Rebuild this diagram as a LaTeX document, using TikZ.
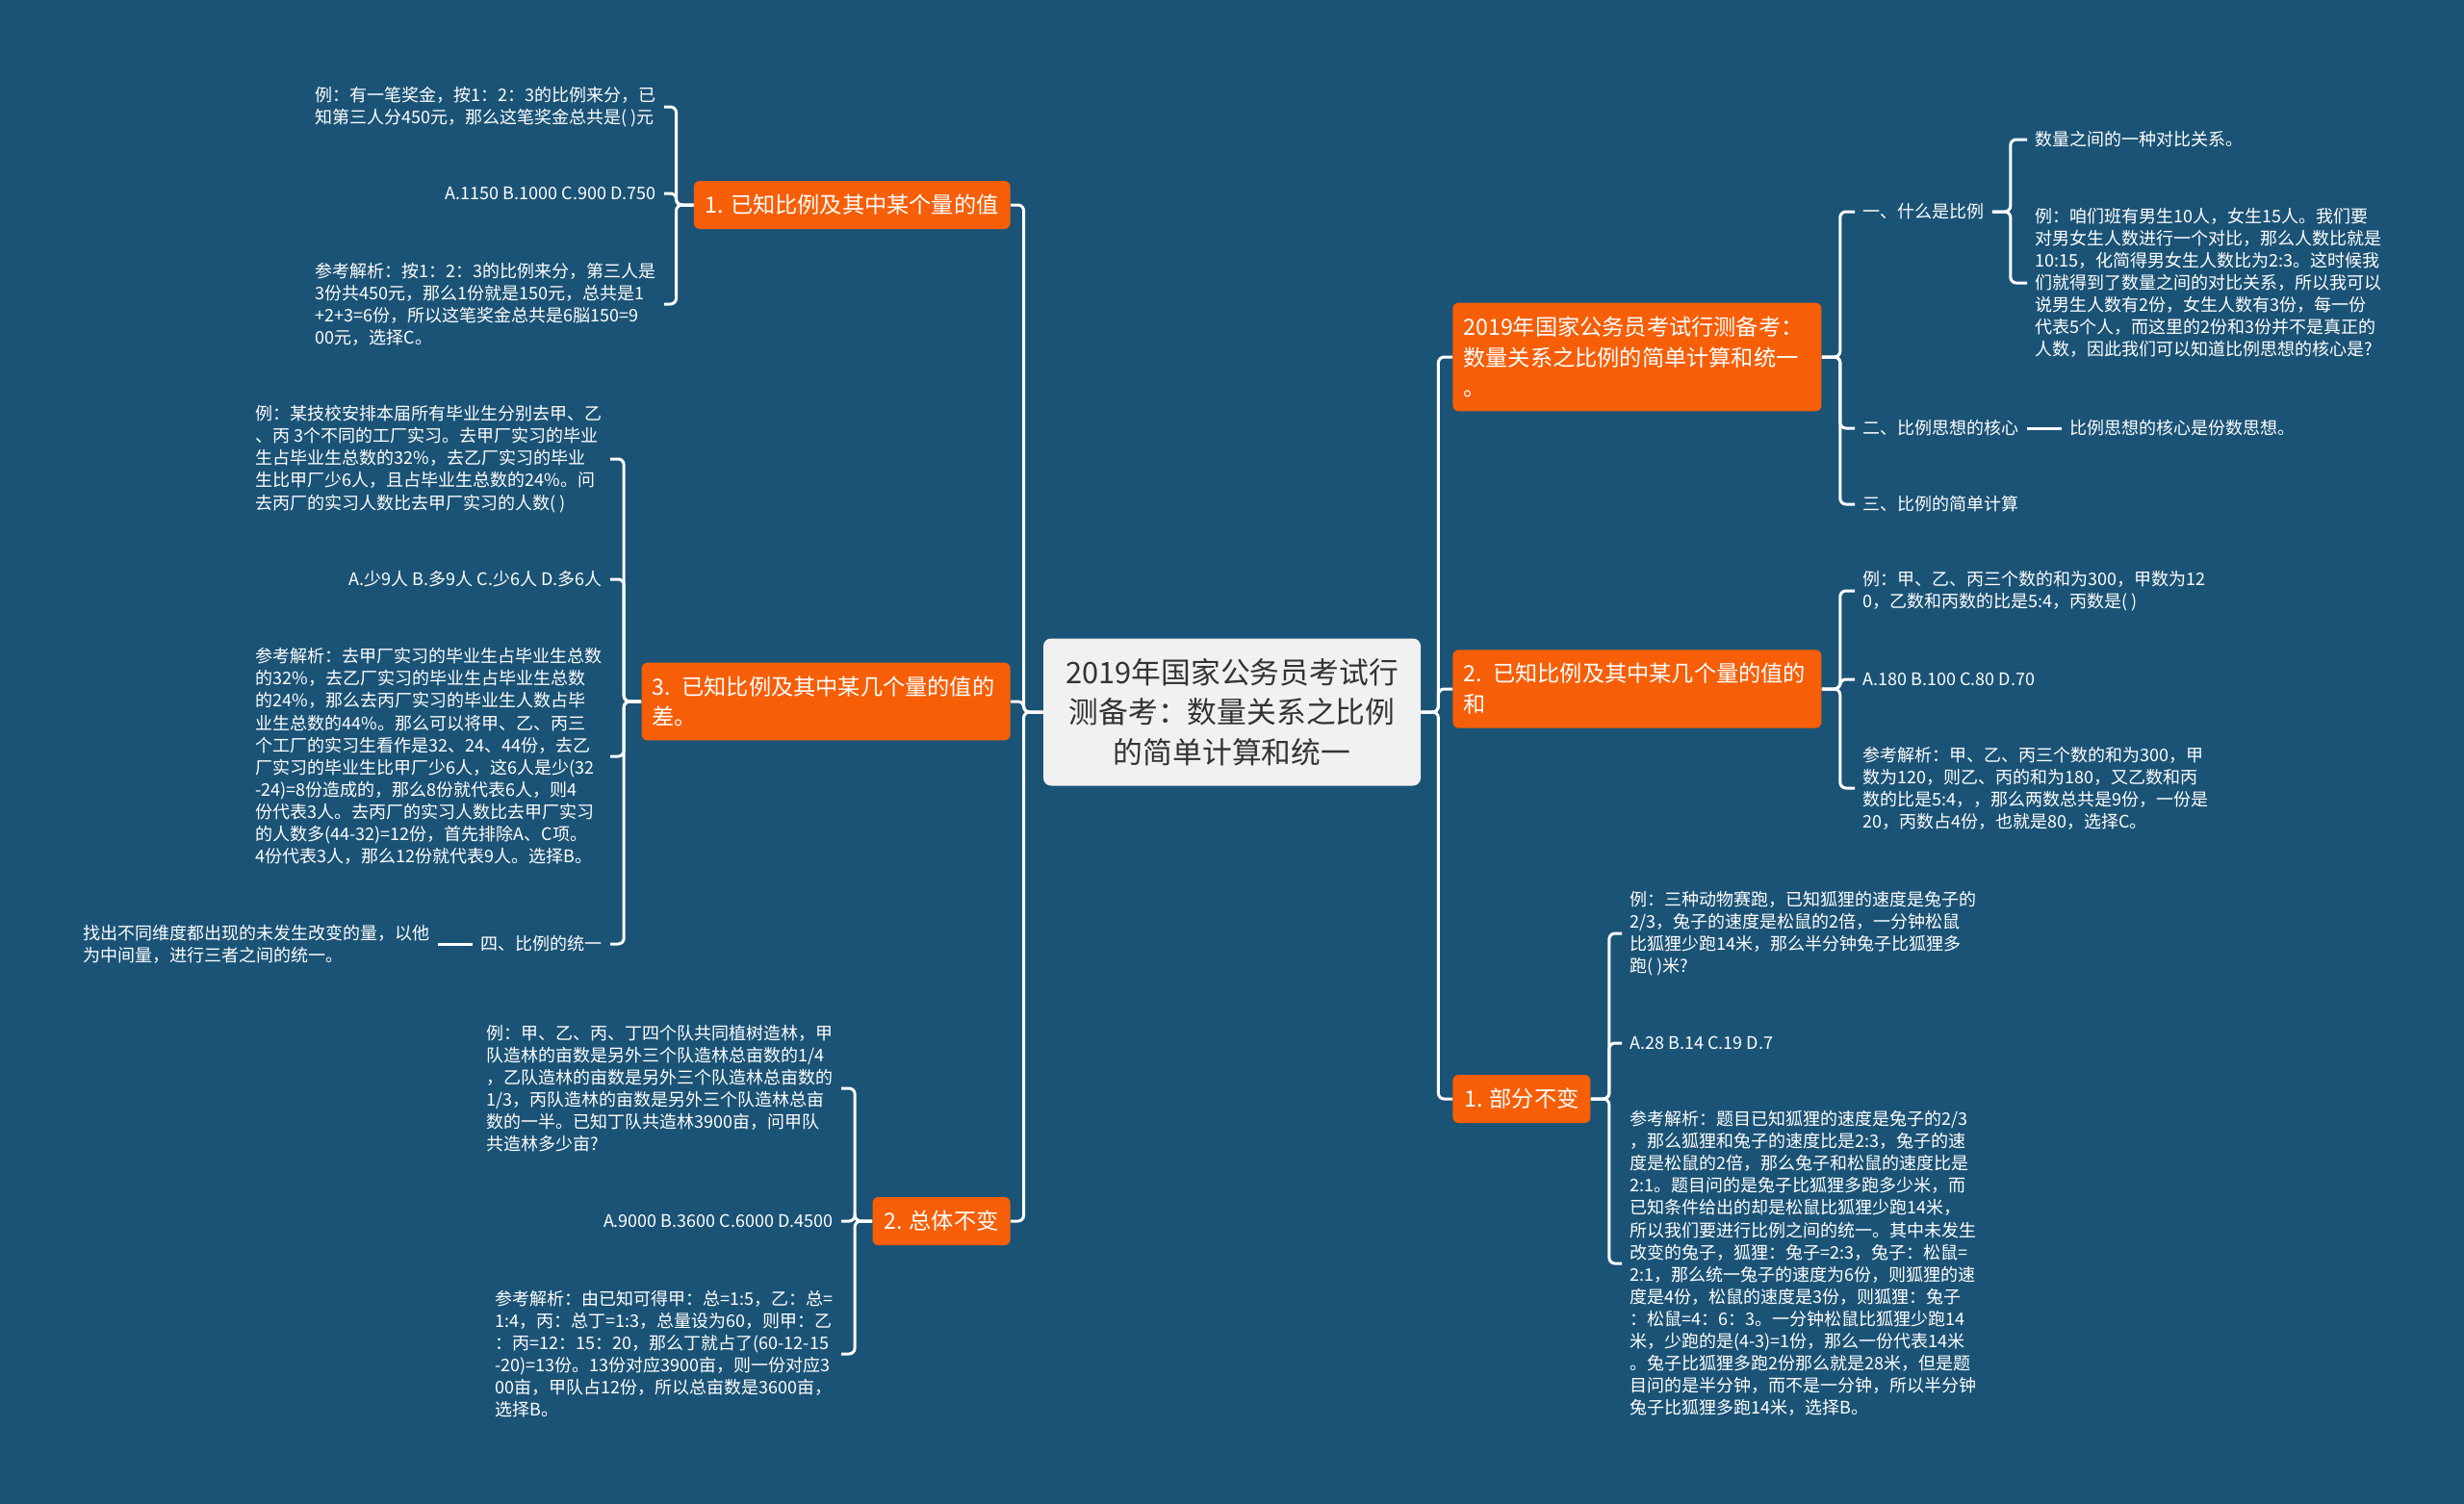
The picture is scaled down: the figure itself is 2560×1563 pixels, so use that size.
\documentclass[tikz,border=0pt]{standalone}
\usepackage{fontspec}
\setmainfont{Noto Sans CJK SC}
\usetikzlibrary{calc}

\definecolor{bgblue}{RGB}{27,83,118}
\definecolor{nodeorange}{RGB}{246,94,8}
\definecolor{rootgray}{RGB}{241,241,241}
\newcommand{\leaffont}{\fontsize{9}{11.54}\selectfont}
\newcommand{\branchfont}{\fontsize{11.6}{15.9}\selectfont}
\newcommand{\rootfont}{\fontsize{15.4}{20.8}\selectfont}

\begin{document}
\begin{tikzpicture}[
        x=0.5pt, y=-0.5pt,
        link/.style={draw=white, line width=1.5pt, rounded corners=3pt},
        root/.style={fill=rootgray, rounded corners=4pt, text=black!80, font=\rootfont, align=center, minimum width=196pt, minimum height=76.5pt},
        branch/.style={fill=nodeorange, rounded corners=3pt, text=white, font=\branchfont, inner xsep=6pt, inner ysep=7pt, minimum height=25pt},
        widebranch/.style={branch, inner xsep=5.5pt, text width=180.5pt, align=left},
        leaf/.style={text=white, font=\leaffont, align=left, inner xsep=4pt, inner ysep=2pt}
    ]
        % 背景
        \useasboundingbox (0,0) rectangle (2560,1563);
        \fill[bgblue] (0,0) rectangle (2560,1563);

        % 中心主题
        \node[root] (root) at (1280,740) {2019年国家公务员考试行\\测备考：数量关系之比例\\的简单计算和统一};

        % 左侧分支
        \node[branch, anchor=east] (L1) at (1050,213) {1. 已知比例及其中某个量的值};
        \node[widebranch, anchor=east] (L3) at (1050,729) {3. 已知比例及其中某几个量的值的\\差。};
        \node[branch, anchor=east] (L2) at (1050,1269) {2. 总体不变};

        % 右侧分支
        \node[widebranch, anchor=west] (R1) at (1509,371) {2019年国家公务员考试行测备考：\\数量关系之比例的简单计算和统一\\。};
        \node[widebranch, anchor=west] (R2) at (1509,716) {2. 已知比例及其中某几个量的值的\\和};
        \node[branch, anchor=west] (R3) at (1509,1142) {1. 部分不变};

        % 主干连线
        \coordinate (ltrunk) at ([xshift=-10pt]root.west);
        \coordinate (rtrunk) at ([xshift=9pt]root.east);
        \draw[link] (root.west) -- (ltrunk) |- (L1.east);
        \draw[link] (root.west) -- (ltrunk) |- (L3.east);
        \draw[link] (root.west) -- (ltrunk) |- (L2.east);
        \draw[link] (root.east) -- (rtrunk) |- (R1.west);
        \draw[link] (root.east) -- (rtrunk) |- (R2.west);
        \draw[link] (root.east) -- (rtrunk) |- (R3.west);

        % 1. 已知比例及其中某个量的值
        \node[leaf, anchor=east] (l1a) at (690,111) {例：有一笔奖金，按1：2：3的比例来分，已\\知第三人分450元，那么这笔奖金总共是( )元};
        \node[leaf, anchor=east] (l1b) at (690,201) {A.1150 B.1000 C.900 D.750};
        \node[leaf, anchor=east] (l1c) at (690,316) {参考解析：按1：2：3的比例来分，第三人是\\3份共450元，那么1份就是150元，总共是1\\+2+3=6份，所以这笔奖金总共是6脳150=9\\00元，选择C。};
        \coordinate (l1bar) at ([xshift=-9pt]L1.west);
        \draw[link] (L1.west) -- (l1bar) |- (l1a.east);
        \draw[link] (L1.west) -- (l1bar) |- (l1b.east);
        \draw[link] (L1.west) -- (l1bar) |- (l1c.east);

        % 3. 已知比例及其中某几个量的值的差
        \node[leaf, anchor=east] (l3a) at (634,477) {例：某技校安排本届所有毕业生分别去甲、乙\\、丙 3个不同的工厂实习。去甲厂实习的毕业\\生占毕业生总数的32\%，去乙厂实习的毕业\\生比甲厂少6人，且占毕业生总数的24\%。问\\去丙厂的实习人数比去甲厂实习的人数( )};
        \node[leaf, anchor=east] (l3b) at (634,602) {A.少9人 B.多9人 C.少6人 D.多6人};
        \node[leaf, anchor=east] (l3c) at (634,786) {参考解析：去甲厂实习的毕业生占毕业生总数\\的32\%，去乙厂实习的毕业生占毕业生总数\\的24\%，那么去丙厂实习的毕业生人数占毕\\业生总数的44\%。那么可以将甲、乙、丙三\\个工厂的实习生看作是32、24、44份，去乙\\厂实习的毕业生比甲厂少6人，这6人是少(32\\-24)=8份造成的，那么8份就代表6人，则4\\份代表3人。去丙厂的实习人数比去甲厂实习\\的人数多(44-32)=12份，首先排除A、C项。\\4份代表3人，那么12份就代表9人。选择B。};
        \node[leaf, anchor=east] (l3d) at (634,981) {四、比例的统一};
        \node[leaf, anchor=east] (l3e) at (455,981) {找出不同维度都出现的未发生改变的量，以他\\为中间量，进行三者之间的统一。};
        \coordinate (l3bar) at ([xshift=-9pt]L3.west);
        \draw[link] (L3.west) -- (l3bar) |- (l3a.east);
        \draw[link] (L3.west) -- (l3bar) |- (l3b.east);
        \draw[link] (L3.west) -- (l3bar) |- (l3c.east);
        \draw[link] (L3.west) -- (l3bar) |- (l3d.east);
        \draw[link] (l3d.west) -- (l3e.east);

        % 2. 总体不变
        \node[leaf, anchor=east] (l2a) at (874,1131) {例：甲、乙、丙、丁四个队共同植树造林，甲\\队造林的亩数是另外三个队造林总亩数的1/4\\，乙队造林的亩数是另外三个队造林总亩数的\\1/3，丙队造林的亩数是另外三个队造林总亩\\数的一半。已知丁队共造林3900亩，问甲队\\共造林多少亩?};
        \node[leaf, anchor=east] (l2b) at (874,1269) {A.9000 B.3600 C.6000 D.4500};
        \node[leaf, anchor=east] (l2c) at (874,1407) {参考解析：由已知可得甲：总=1:5，乙：总=\\1:4，丙：总丁=1:3，总量设为60，则甲：乙\\：丙=12：15：20，那么丁就占了(60-12-15\\-20)=13份。13份对应3900亩，则一份对应3\\00亩，甲队占12份，所以总亩数是3600亩，\\选择B。};
        \coordinate (l2bar) at ([xshift=-9pt]L2.west);
        \draw[link] (L2.west) -- (l2bar) |- (l2a.east);
        \draw[link] (L2.west) -- (l2bar) |- (l2b.east);
        \draw[link] (L2.west) -- (l2bar) |- (l2c.east);

        % 右一：比例的概念
        \node[leaf, anchor=west] (r1a) at (1927,220) {一、什么是比例};
        \node[leaf, anchor=west] (r1b) at (1927,445) {二、比例思想的核心};
        \node[leaf, anchor=west] (r1c) at (1927,524) {三、比例的简单计算};
        \node[leaf, anchor=west] (r1a1) at (2106,145) {数量之间的一种对比关系。};
        \node[leaf, anchor=west] (r1a2) at (2106,294) {例：咱们班有男生10人，女生15人。我们要\\对男女生人数进行一个对比，那么人数比就是\\10:15，化简得男女生人数比为2:3。这时候我\\们就得到了数量之间的对比关系，所以我可以\\说男生人数有2份，女生人数有3份，每一份\\代表5个人，而这里的2份和3份并不是真正的\\人数，因此我们可以知道比例思想的核心是?};
        \node[leaf, anchor=west] (r1b1) at (2142,445) {比例思想的核心是份数思想。};
        \coordinate (r1bar) at ([xshift=9.5pt]R1.east);
        \draw[link] (R1.east) -- (r1bar) |- (r1a.west);
        \draw[link] (R1.east) -- (r1bar) |- (r1b.west);
        \draw[link] (R1.east) -- (r1bar) |- (r1c.west);
        \coordinate (r1abar) at ([xshift=9.5pt]r1a.east);
        \draw[link] (r1a.east) -- (r1abar) |- (r1a1.west);
        \draw[link] (r1a.east) -- (r1abar) |- (r1a2.west);
        \draw[link] (r1b.east) -- (r1b1.west);

        % 2. 已知比例及其中某几个量的值的和
        \node[leaf, anchor=west] (r2a) at (1927,614) {例：甲、乙、丙三个数的和为300，甲数为12\\0，乙数和丙数的比是5:4，丙数是( )};
        \node[leaf, anchor=west] (r2b) at (1927,706) {A.180 B.100 C.80 D.70};
        \node[leaf, anchor=west] (r2c) at (1927,819) {参考解析：甲、乙、丙三个数的和为300，甲\\数为120，则乙、丙的和为180，又乙数和丙\\数的比是5:4，，那么两数总共是9份，一份是\\20，丙数占4份，也就是80，选择C。};
        \coordinate (r2bar) at ([xshift=9.5pt]R2.east);
        \draw[link] (R2.east) -- (r2bar) |- (r2a.west);
        \draw[link] (R2.east) -- (r2bar) |- (r2b.west);
        \draw[link] (R2.east) -- (r2bar) |- (r2c.west);

        % 1. 部分不变
        \node[leaf, anchor=west] (r3a) at (1685,970) {例：三种动物赛跑，已知狐狸的速度是兔子的\\2/3，兔子的速度是松鼠的2倍，一分钟松鼠\\比狐狸少跑14米，那么半分钟兔子比狐狸多\\跑( )米?};
        \node[leaf, anchor=west] (r3b) at (1685,1084) {A.28 B.14 C.19 D.7};
        \node[leaf, anchor=west] (r3c) at (1685,1313) {参考解析：题目已知狐狸的速度是兔子的2/3\\，那么狐狸和兔子的速度比是2:3，兔子的速\\度是松鼠的2倍，那么兔子和松鼠的速度比是\\2:1。题目问的是兔子比狐狸多跑多少米，而\\已知条件给出的却是松鼠比狐狸少跑14米，\\所以我们要进行比例之间的统一。其中未发生\\改变的兔子，狐狸：兔子=2:3，兔子：松鼠=\\2:1，那么统一兔子的速度为6份，则狐狸的速\\度是4份，松鼠的速度是3份，则狐狸：兔子\\：松鼠=4：6：3。一分钟松鼠比狐狸少跑14\\米，少跑的是(4-3)=1份，那么一份代表14米\\。兔子比狐狸多跑2份那么就是28米，但是题\\目问的是半分钟，而不是一分钟，所以半分钟\\兔子比狐狸多跑14米，选择B。};
        \coordinate (r3bar) at ([xshift=9.5pt]R3.east);
        \draw[link] (R3.east) -- (r3bar) |- (r3a.west);
        \draw[link] (R3.east) -- (r3bar) |- (r3b.west);
        \draw[link] (R3.east) -- (r3bar) |- (r3c.west);

    \end{tikzpicture}
\end{document}
